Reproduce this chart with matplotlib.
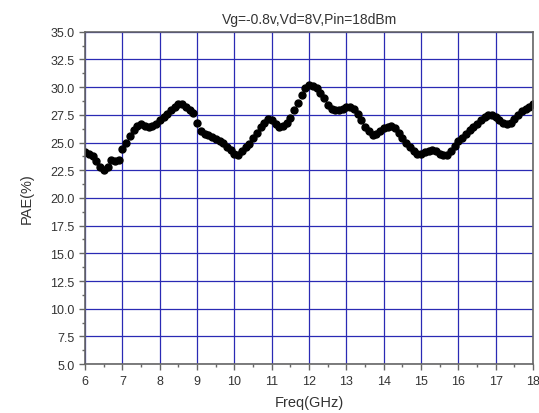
import numpy as np
import matplotlib.pyplot as plt
from matplotlib.ticker import MultipleLocator, FormatStrFormatter

plt.rcParams['font.family'] = ['Liberation Sans', 'DejaVu Sans']

# frequency points (GHz), 0.1 GHz step
freq = [round(6.0 + 0.1 * i, 1) for i in range(121)]

pae = [
    24.1, 24.0, 23.8, 23.3, 22.8, 22.5, 22.8, 23.4, 23.3, 23.4,   # 6.0 - 6.9
    24.4, 25.0, 25.6, 26.1, 26.5, 26.7, 26.5, 26.4, 26.5, 26.7,   # 7.0 - 7.9
    27.0, 27.3, 27.6, 27.9, 28.2, 28.5, 28.5, 28.2, 27.9, 27.7,   # 8.0 - 8.9
    26.8, 26.0, 25.8, 25.7, 25.5, 25.3, 25.1, 25.0, 24.6, 24.3,   # 9.0 - 9.9
    24.0, 23.9, 24.2, 24.6, 24.9, 25.4, 25.9, 26.4, 26.8, 27.1,   # 10.0 - 10.9
    27.0, 26.7, 26.4, 26.5, 26.8, 27.2, 27.9, 28.6, 29.3, 29.9,   # 11.0 - 11.9
    30.2, 30.1, 29.9, 29.5, 29.0, 28.4, 28.0, 27.9, 27.9, 28.0,   # 12.0 - 12.9
    28.2, 28.2, 28.0, 27.6, 27.0, 26.4, 26.0, 25.7, 25.8, 26.0,   # 13.0 - 13.9
    26.3, 26.4, 26.5, 26.3, 25.9, 25.4, 25.0, 24.6, 24.2, 24.0,   # 14.0 - 14.9
    24.0, 24.1, 24.2, 24.3, 24.2, 24.0, 23.9, 23.9, 24.2, 24.7,   # 15.0 - 15.9
    25.1, 25.4, 25.8, 26.1, 26.4, 26.7, 27.0, 27.3, 27.5, 27.5,   # 16.0 - 16.9
    27.3, 27.0, 26.8, 26.7, 26.8, 27.1, 27.5, 27.8, 28.0, 28.2,   # 17.0 - 17.9
    28.5,                                                          # 18.0
]

grid_color = '#2a2ab4'
axis_color = '#666666'
text_color = '#333333'

fig = plt.figure(figsize=(5.39, 4.14), dpi=100)
ax = fig.add_axes([0.158, 0.118, 0.831, 0.803])

ax.plot(freq, pae, 'o', color='black', markersize=5, linestyle='none')

ax.set_xlim(6, 18)
ax.set_ylim(5, 35)
ax.xaxis.set_major_locator(MultipleLocator(1))
ax.xaxis.set_minor_locator(MultipleLocator(0.5))
ax.yaxis.set_major_locator(MultipleLocator(2.5))
ax.yaxis.set_minor_locator(MultipleLocator(1.25))
ax.yaxis.set_major_formatter(FormatStrFormatter('%.1f'))

ax.grid(True, which='major', color=grid_color, linewidth=0.9)
ax.set_axisbelow(True)
ax.tick_params(which='both', direction='out', labelsize=9, color=axis_color,
               labelcolor=text_color, width=1)
ax.tick_params(which='major', length=4)
ax.tick_params(which='minor', length=2.5)

for side in ['left', 'bottom', 'top', 'right']:
    ax.spines[side].set_color(axis_color)
    ax.spines[side].set_linewidth(1.2)

ax.set_xlabel('Freq(GHz)', fontsize=10.5, color=text_color, labelpad=6)
ax.set_ylabel('PAE(%)', fontsize=10.5, color=text_color, labelpad=12)
ax.set_title('Vg=-0.8v,Vd=8V,Pin=18dBm', fontsize=10, color=text_color, pad=6)

plt.savefig('out.png', dpi=100)
